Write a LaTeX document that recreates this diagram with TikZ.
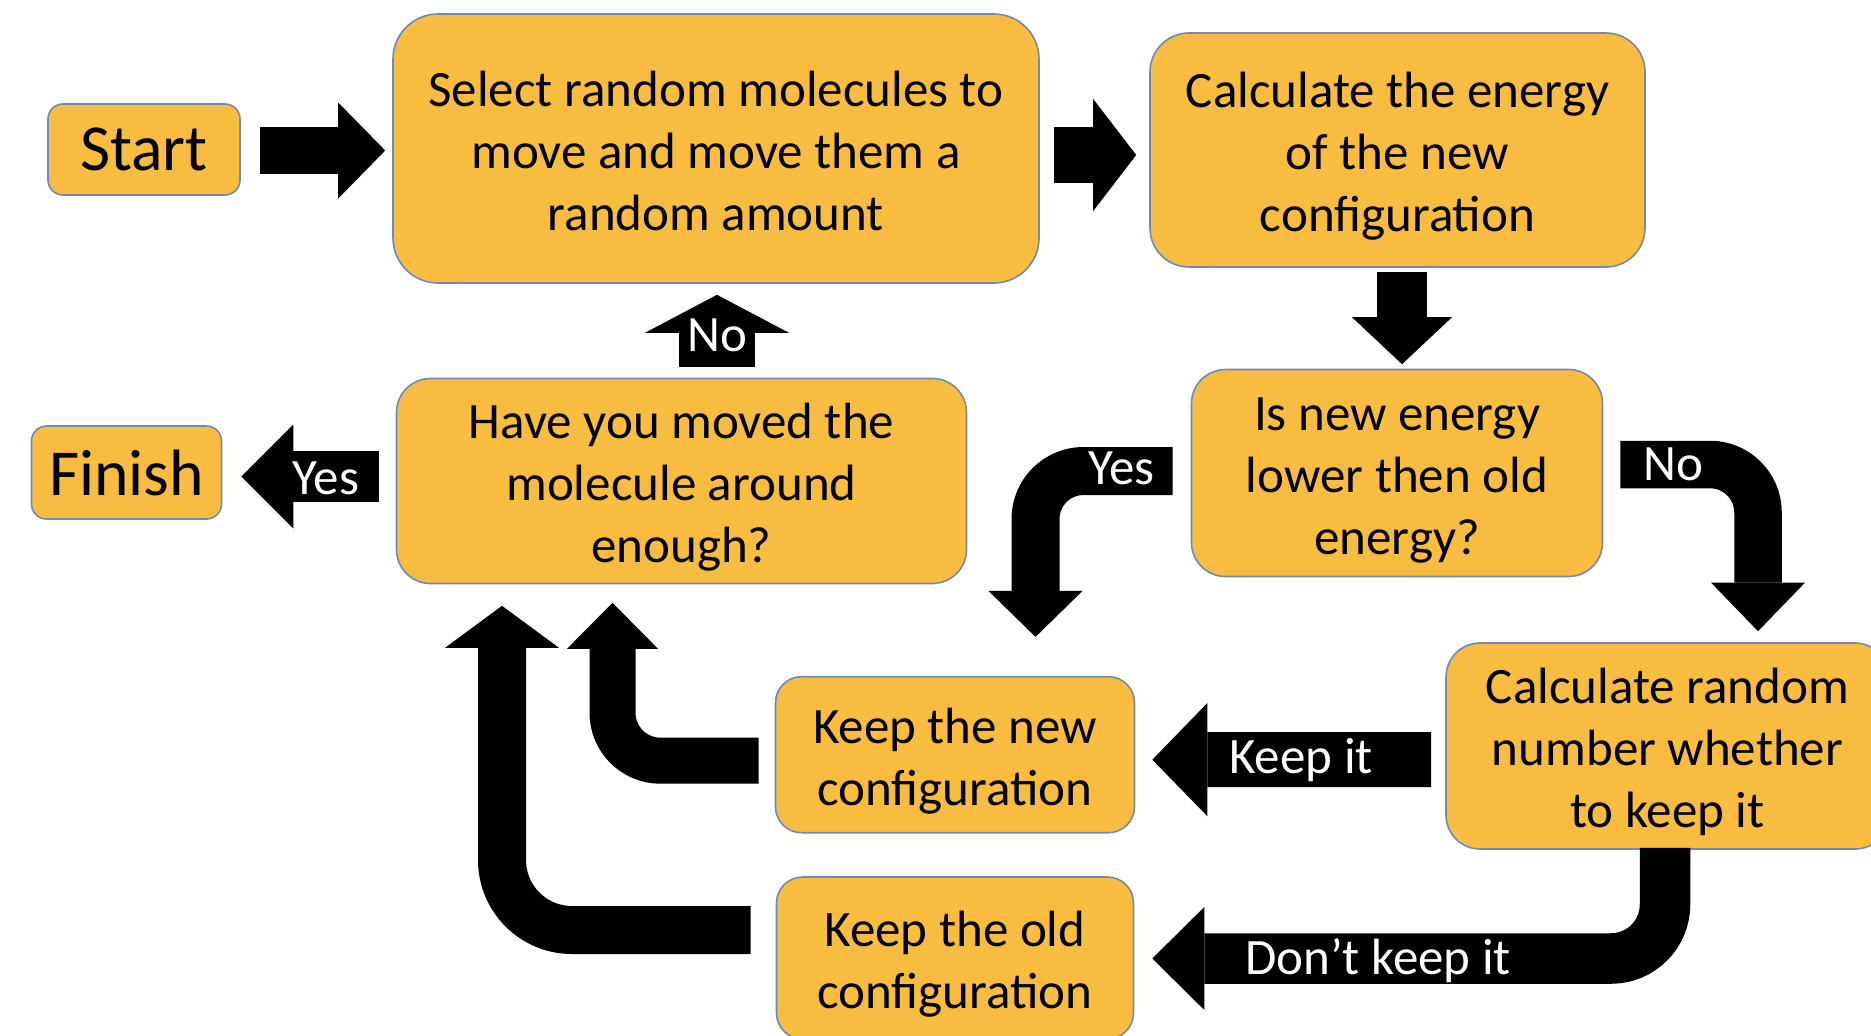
\documentclass[tikz,border=0pt]{standalone}
\usepackage{fontspec}
\setmainfont{Carlito}
\usetikzlibrary{arrows.meta,calc}
\definecolor{boxfill}{RGB}{248,189,64}
\definecolor{boxline}{RGB}{112,138,176}
% struts so every box gets the same top and bottom of its text
\newcommand\firstln{\rule{0pt}{26pt}}
\newcommand\lastln{\rule[-6.5pt]{0pt}{0pt}}
\tikzset{
  box/.style={draw=boxline, line width=0.8pt, fill=boxfill, inner sep=0pt, align=center, font=\fontsize{25.5}{31}\selectfont},
  endbox/.style={box, font=\fontsize{32.8}{38}\selectfont},
  blk/.style n args={3}{line width=#1, draw=black, -{Triangle[length=#2, width=#3, line width=0pt]}},
  lbl/.style={text=white, inner sep=0pt, text height=16.1pt, text depth=0pt, font=\fontsize{25.5}{30}\selectfont}
}
\begin{document}
\begin{tikzpicture}[x=0.5pt, y=-0.5pt]
\useasboundingbox (0,0) rectangle (1871,1035);
% the steps
\node[endbox, minimum width=96pt, minimum height=45.5pt, rounded corners=7.5pt] (start) at (144,149.5) {Start};
\node[box, minimum width=323pt, minimum height=134.5pt, rounded corners=22.5pt] (select) at (716,148.5) {\firstln Select random molecules to\\move and move them a\\random amount\lastln};
\node[box, minimum width=247.5pt, minimum height=117pt, rounded corners=19.5pt] (calc) at (1397.5,150) {\firstln Calculate the energy\\of the new\\configuration\lastln};
\node[box, minimum width=205.5pt, minimum height=103.5pt, rounded corners=17pt] (isnew) at (1397,473) {\firstln Is new energy\\lower then old\\energy?\lastln};
\node[box, minimum width=285pt, minimum height=102.5pt, rounded corners=17pt] (moved) at (681.5,481) {\firstln Have you moved the\\molecule around\\enough?\lastln};
\node[endbox, minimum width=95pt, minimum height=46.5pt, rounded corners=7.5pt] (finish) at (126.5,472.5) {Finish};
\node[box, minimum width=179.5pt, minimum height=78pt, rounded corners=13pt] (keepnew) at (955,754.7) {\firstln Keep the new\\configuration\lastln};
\node[box, minimum width=221.5pt, minimum height=103pt, rounded corners=17pt] (calcrand) at (1667.5,746) {\firstln Calculate random\\number whether\\to keep it\lastln};
\node[box, minimum width=178.5pt, minimum height=81pt, rounded corners=13pt] (keepold) at (955,958) {\firstln Keep the old\\configuration\lastln};

% straight arrows
\draw[blk={23.5pt}{23.5pt}{48pt}] ($(start.east)+(19,1)$) -- ($(select.west)+(-7,2)$);
\draw[blk={27.8pt}{21.5pt}{56pt}] ($(select.east)+(14,6.5)$) -- ($(calc.west)+(-13,5)$);
\draw[blk={25pt}{23.5pt}{50pt}] ($(calc.south)+(4.5,4)$) -- ($(isnew.north)+(5,-4.5)$);
\draw[blk={38pt}{19pt}{72pt}] ($(select.south |- moved.north)+(1,-11)$) -- ($(select.south)+(1,11)$);
\draw[blk={25.5pt}{26pt}{52pt}] ($(moved.west)+(-17,-4.5)$) -- ($(finish.east)+(19,4)$);
\draw[blk={27.5pt}{27.5pt}{56.5pt}] ($(calcrand.west)+(-14,13.5)$) -- ($(keepnew.east)+(17,5)$);

% bent arrows
\draw[blk={24pt}{23pt}{47pt}, rounded corners=24pt] ($(isnew.west)+(-18,-2)$) -| ($(keepnew.north)+(80.5,-39)$);
\draw[blk={23.75pt}{24.3pt}{47pt}, rounded corners=24pt] ($(isnew.east)+(17,-8.5)$) -| ($(calcrand.north)+(90.5,-11)$);
\draw[blk={25.25pt}{26pt}{51.5pt}, rounded corners=27pt] ($(calcrand.south)+(-2.5,-2)$) |- ($(keepold.east)+(18,0.5)$);
\draw[blk={23pt}{23pt}{45.5pt}, rounded corners=24pt] ($(keepnew.west)+(-16,6)$) -| ($(moved.south)+(-69,18.5)$);
\draw[blk={24pt}{21pt}{57pt}, rounded corners=35pt] ($(keepold.west)+(-25,-28)$) -| ($(moved.south)+(-179.5,21.5)$);

% answers on the arrows
\node[lbl] (nolbl) at (717,335) {No};
\node[lbl] (yeslbl) at (326,478.5) {Yes};
\node[lbl] (yesbend) at (1121.5,468) {Yes};
\node[lbl] (nobend) at (1673,464.5) {No};
\node[lbl] (keeplbl) at (1301,757.5) {Keep it};
\node[lbl] (dontlbl) at (1378,958) {Don’t keep it};
\end{tikzpicture}
\end{document}
